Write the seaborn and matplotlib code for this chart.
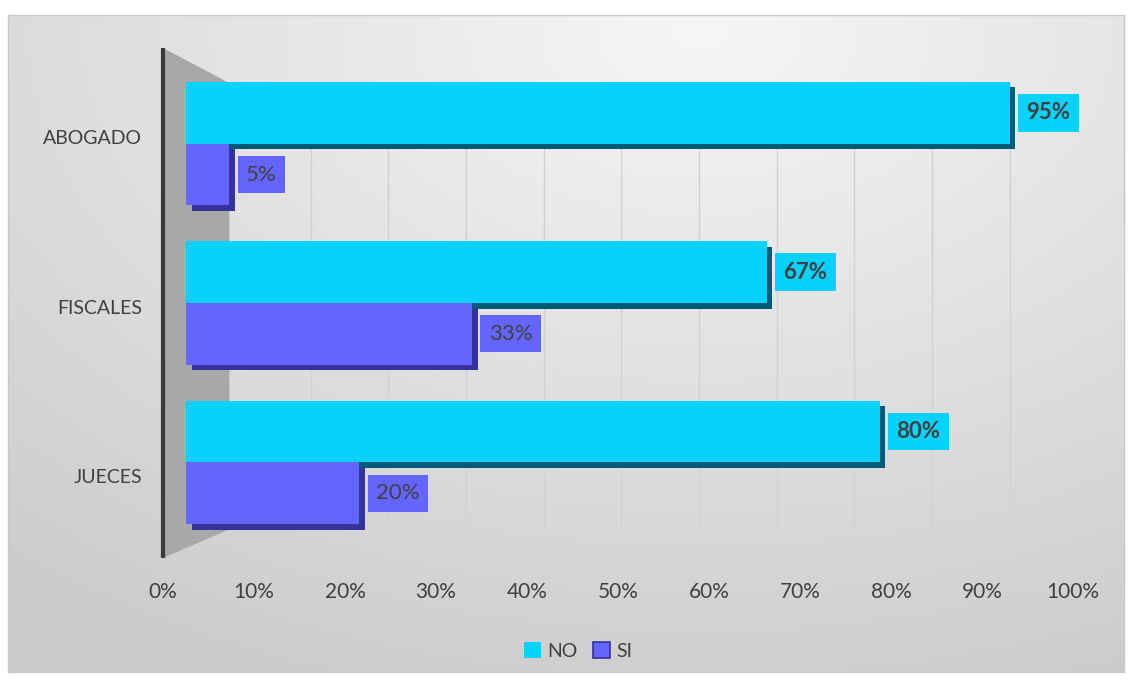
import numpy as np
import pandas as pd
import matplotlib
matplotlib.use("Agg")
import matplotlib.pyplot as plt
import matplotlib.patheffects as pe
import matplotlib.transforms as mtransforms
from matplotlib.patches import Polygon, Rectangle
import seaborn as sns

# ---- data -------------------------------------------------------------
categorias = ["ABOGADO", "FISCALES", "JUECES"]
valores_no = [95, 67, 80]
valores_si = [5, 33, 20]
series = ["NO", "SI"]
ticks = [0, 10, 20, 30, 40, 50, 60, 70, 80, 90, 100]

# ---- style ------------------------------------------------------------
sns.set_theme(style="white")
plt.rcParams["font.family"] = ["Lato", "DejaVu Sans"]
TXT = "#404040"
C_NO = "#08D2FC"
C_SI = "#6464FF"
C_NO_DARK = "#005a78"
C_SI_DARK = "#33339a"

df = pd.DataFrame({
    "categoria": categorias * 2,
    "serie": ["NO"] * len(categorias) + ["SI"] * len(categorias),
    "valor": valores_no + valores_si,
})

fig = plt.figure(figsize=(11.32, 6.82), dpi=100)
W, H = 1132, 682

def fx(px):
    return px / W

def fy(py):
    return 1 - py / H

# chart-area background: soft grey gradient with a bright top centre
bg = fig.add_axes([fx(8), fy(672), fx(1124) - fx(8), fy(15) - fy(672)], zorder=0)
gx, gy = np.meshgrid(np.linspace(0, 1, 300), np.linspace(0, 1, 200))
r = np.sqrt(((gx - 0.62) / 1.0) ** 2 + ((gy - 0.02) / 1.1) ** 2)
shade = np.clip(0.965 - 0.17 * r, 0.8, 1.0)
bg.imshow(np.dstack([shade] * 3), aspect="auto", extent=(0, 1, 1, 0))
bg.set_xticks([]); bg.set_yticks([])
for s in bg.spines.values():
    s.set_color("#c8c8c8"); s.set_linewidth(1)

# plotting axes: value 0 at x=186 px, 8.67 px per percent
X0, S = 186, 8.67
XMIN, XMAX = -3.0, 103.0
ax = fig.add_axes([fx(X0 + S * XMIN), fy(558),
                   fx(X0 + S * XMAX) - fx(X0 + S * XMIN), fy(48) - fy(558)],
                  zorder=2)
ax.patch.set_alpha(0)

sns.barplot(data=df, y="categoria", x="valor", hue="serie", orient="h",
            palette={"NO": C_NO, "SI": C_SI}, width=0.775, saturation=1,
            order=categorias, hue_order=series, ax=ax, legend=False,
            linewidth=0, zorder=3)

ax.set_xlim(XMIN, XMAX)
ax.set_ylim(2.6, -0.6)

# left side wall of the 3-D box
WALL = -2.65
wall = Polygon([(WALL, -0.6), (5.0, -0.38), (5.0, 2.42), (WALL, 2.6)],
               closed=True, fc="#a8a8a8", ec="none", zorder=1)
ax.add_patch(wall)
ax.plot([WALL, WALL], [-0.6, 2.6], color="#3a3a3a", lw=3, zorder=2,
        solid_capstyle="butt", clip_on=False)

# faint gridlines on the foreshortened back wall
for t in ticks[1:]:
    xb = 5.4 + 0.896 * t
    ax.plot([xb, xb], [-0.38, 2.42], color="#d2d2d2", lw=1, zorder=0.5)

# bars: dark depth side + value labels
for cont, col, dark, bold in zip(ax.containers, [C_NO, C_SI],
                                 [C_NO_DARK, C_SI_DARK], [True, False]):
    for bar in cont:
        bar.set_linewidth(0)
        bar.set_path_effects([
            pe.SimplePatchShadow(offset=(4, -4), shadow_rgbFace=dark, alpha=1),
            pe.Normal()])
    ax.bar_label(cont, labels=[f"{v:.0f}%" for v in cont.datavalues],
                 padding=12, fontsize=16, color=TXT,
                 fontweight="bold" if bold else "normal",
                 bbox=dict(boxstyle="square,pad=0.38", fc=col, ec="none"),
                 zorder=5)

# category labels (perspective pulls them slightly apart from the bar centres)
ax.set_ylabel("")
ax.set_xlabel("")
ax.set_yticks(range(len(categorias)))
ax.set_yticklabels(categorias, fontsize=14, color=TXT)
ax.tick_params(axis="y", length=0, pad=13)
for lbl, dy in zip(ax.get_yticklabels(), [5, -3, -10]):
    lbl.set_transform(lbl.get_transform() +
                      mtransforms.ScaledTranslation(0, dy / 72, fig.dpi_scale_trans))

# percentage scale sits on the front edge of the floor (0% at 163 px, 100% at 1073 px)
ax.set_xticks([])
def to_front(x):
    return (X0 + S * np.asarray(x) - 163) / 9.10
def from_front(t):
    return (163 + 9.10 * np.asarray(t) - X0) / S
sec = ax.secondary_xaxis("bottom", functions=(to_front, from_front))
sec.set_xticks(ticks)
sec.set_xticklabels([f"{t}%" for t in ticks], fontsize=15, color=TXT)
sec.tick_params(length=0, pad=17)
sec.spines["bottom"].set_visible(False)

for s in ax.spines.values():
    s.set_visible(False)

# legend
handles = [Rectangle((0, 0), 1, 1, fc=C_NO, ec="none"),
           Rectangle((0, 0), 1, 1, fc=C_SI, ec=C_SI_DARK, lw=1.2)]
fig.legend(handles, series, loc="center", bbox_to_anchor=(fx(578), fy(651)),
           ncol=2, frameon=False, fontsize=14, handlelength=0.9,
           handleheight=0.9, handletextpad=0.3, columnspacing=0.8,
           labelcolor=TXT)

fig.savefig("out.png", dpi=100, facecolor="white")
